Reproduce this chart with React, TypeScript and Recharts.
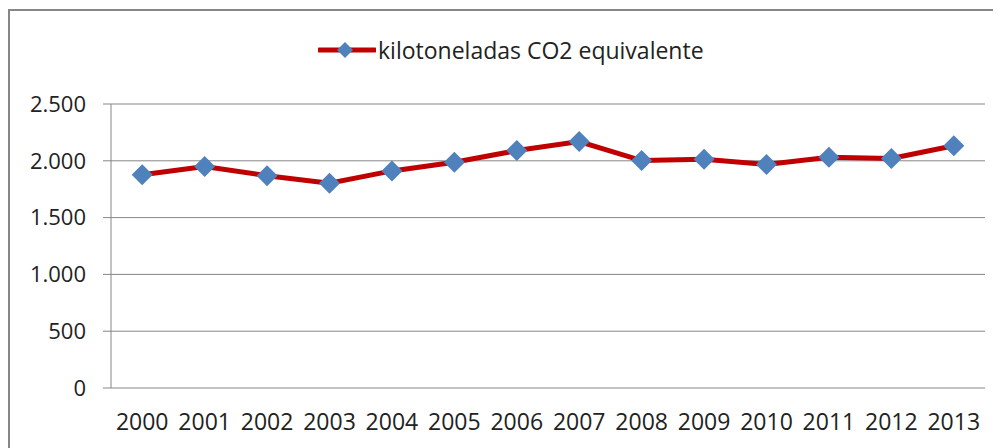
import React from "react";
import { LineChart, Line, XAxis, YAxis, CartesianGrid, Legend } from "recharts";

const years = ["2000", "2001", "2002", "2003", "2004", "2005", "2006", "2007", "2008", "2009", "2010", "2011", "2012", "2013"];
const kilotons = [1878, 1949, 1869, 1802, 1911, 1988, 2090, 2170, 2002, 2014, 1967, 2032, 2020, 2132];
const yTicks = [0, 500, 1000, 1500, 2000, 2500];
const seriesName = "kilotoneladas CO2 equivalente";

const data = years.map((y, i) => ({ year: y, value: kilotons[i] }));
const boundaryTicks = Array.from({ length: years.length + 1 }, (_, i) => i);

const FONT = "'Open Sans', sans-serif";
const RED = "#C00000";
const BLUE = "#4F81BD";
const GRAY = "#868686";

const fmt = (v: number) => String(v).replace(/\B(?=(\d{3})+(?!\d))/g, ".");

const Diamond = (props: any) => {
  const { cx, cy, index } = props;
  if (cx == null || cy == null) return <g key={index} />;
  const r = 10.5;
  return (
    <path
      key={index}
      d={`M${cx},${cy - r}L${cx + r},${cy}L${cx},${cy + r}L${cx - r},${cy}Z`}
      fill={BLUE}
    />
  );
};

const LegendContent = () => (
  <div style={{ display: "flex", alignItems: "center", fontFamily: FONT, fontSize: 23, color: "#222", whiteSpace: "nowrap", height: 30 }}>
    <svg width={58} height={20} style={{ marginRight: 2 }}>
      <line x1={1} y1={10} x2={57} y2={10} stroke={RED} strokeWidth={5} strokeLinecap="round" />
      <path d="M27,2L35,10L27,18L19,10Z" fill={BLUE} />
    </svg>
    <span>{seriesName}</span>
  </div>
);

export default function App() {
  return (
    <div style={{ position: "relative", width: 1000, height: 440 }}>
      <style>{`body{overflow:hidden}`}</style>
      <div
        style={{
          position: "absolute",
          left: 0,
          top: 1,
          width: 1010,
          height: 460,
          border: `2px solid ${GRAY}`,
          boxSizing: "border-box",
        }}
      />
      <div style={{ position: "absolute", left: 2, top: 3 }}>
        <LineChart
          width={1000}
          height={437}
          data={data}
          margin={{ top: 63, right: 25, bottom: 0, left: 0 }}
        >
          <CartesianGrid horizontal vertical={false} stroke={GRAY} strokeWidth={1} />
          <XAxis
            xAxisId="b"
            type="number"
            domain={[0, years.length]}
            ticks={boundaryTicks}
            allowDataOverflow
            height={0}
            tickSize={8}
            tick={() => <g />}
            axisLine={{ stroke: GRAY }}
            tickLine={{ stroke: GRAY }}
            interval={0}
          />
          <XAxis
            xAxisId="c"
            dataKey="year"
            scale="band"
            height={60}
            axisLine={false}
            tickLine={false}
            tickSize={0}
            tickMargin={26}
            interval={0}
            tick={{ fill: "#222", fontSize: 23, fontFamily: FONT }}
          />
          <YAxis
            domain={[0, 2500]}
            ticks={yTicks}
            width={101}
            tickSize={8}
            tickMargin={17}
            tickFormatter={fmt}
            axisLine={{ stroke: GRAY }}
            tickLine={{ stroke: GRAY }}
            tick={{ fill: "#222", fontSize: 22, fontFamily: FONT }}
            interval={0}
          />
          <Legend
            verticalAlign="top"
            height={30}
            content={<LegendContent />}
            wrapperStyle={{ position: "absolute", top: 24, left: 308, width: "auto" }}
          />
          <Line
            xAxisId="c"
            dataKey="value"
            name={seriesName}
            stroke={RED}
            strokeWidth={5}
            dot={Diamond}
            activeDot={false}
            isAnimationActive={false}
          />
        </LineChart>
      </div>
    </div>
  );
}
